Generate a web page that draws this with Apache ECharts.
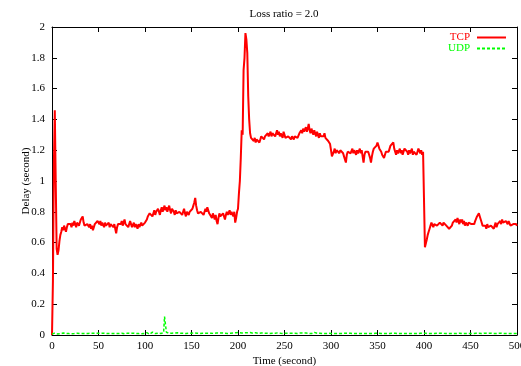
<!DOCTYPE html>
<html>
<head>
<meta charset="utf-8">
<script src="https://cdn.jsdelivr.net/npm/echarts@6/dist/echarts.min.js"></script>
<style>
html, body { margin: 0; padding: 0; background: #fff; }
#main { width: 521px; height: 366px; }
</style>
</head>
<body>
<div id="main"></div>
<script>
var chartDom = document.getElementById('main');
var myChart = echarts.init(chartDom);
var option;

// one sample per second, t = 0 .. 500
var tcpDelay = [
	0, 0.35, 1.1, 1.46, 1.0, 0.56, 0.52, 0.55, 0.61, 0.65,
	0.67, 0.70, 0.68, 0.71, 0.69, 0.67, 0.70, 0.72, 0.71, 0.73,
	0.72, 0.70, 0.73, 0.71, 0.74, 0.72, 0.70, 0.73, 0.72, 0.71,
	0.73, 0.75, 0.74, 0.77, 0.73, 0.71, 0.72, 0.70, 0.72, 0.71,
	0.70, 0.72, 0.69, 0.71, 0.68, 0.70, 0.72, 0.71, 0.73, 0.74,
	0.75, 0.72, 0.74, 0.71, 0.73, 0.72, 0.70, 0.73, 0.71, 0.72,
	0.71, 0.73, 0.70, 0.72, 0.71, 0.73, 0.70, 0.72, 0.69, 0.66,
	0.70, 0.72, 0.71, 0.73, 0.72, 0.74, 0.71, 0.73, 0.75, 0.72,
	0.71, 0.73, 0.70, 0.72, 0.74, 0.72, 0.70, 0.71, 0.73, 0.70,
	0.72, 0.71, 0.69, 0.72, 0.70, 0.71, 0.73, 0.71, 0.70, 0.72,
	0.73, 0.72, 0.75, 0.77, 0.76, 0.79, 0.78, 0.80, 0.77, 0.79,
	0.81, 0.78, 0.80, 0.79, 0.82, 0.80, 0.78, 0.81, 0.83, 0.80,
	0.82, 0.84, 0.81, 0.83, 0.80, 0.82, 0.84, 0.81, 0.79, 0.82,
	0.83, 0.80, 0.78, 0.81, 0.79, 0.80, 0.78, 0.80, 0.79, 0.81,
	0.78, 0.80, 0.82, 0.79, 0.77, 0.80, 0.81, 0.78, 0.80, 0.79,
	0.81, 0.82, 0.84, 0.86, 0.89, 0.84, 0.81, 0.79, 0.80, 0.78,
	0.80, 0.79, 0.81, 0.78, 0.80, 0.82, 0.80, 0.83, 0.81, 0.79,
	0.80, 0.78, 0.76, 0.79, 0.77, 0.75, 0.78, 0.74, 0.72, 0.76,
	0.79, 0.77, 0.78, 0.76, 0.79, 0.77, 0.75, 0.78, 0.80, 0.78,
	0.79, 0.81, 0.78, 0.80, 0.79, 0.77, 0.80, 0.73, 0.76, 0.80,
	0.82, 0.92, 1.00, 1.15, 1.33, 1.30, 1.72, 1.80, 1.96, 1.92,
	1.83, 1.55, 1.40, 1.31, 1.28, 1.27, 1.29, 1.26, 1.28, 1.25,
	1.27, 1.26, 1.28, 1.25, 1.27, 1.29, 1.28, 1.30, 1.27, 1.29,
	1.28, 1.30, 1.31, 1.29, 1.30, 1.32, 1.29, 1.31, 1.30, 1.32,
	1.29, 1.31, 1.33, 1.30, 1.32, 1.29, 1.31, 1.30, 1.28, 1.32,
	1.30, 1.28, 1.29, 1.27, 1.29, 1.28, 1.30, 1.27, 1.29, 1.28,
	1.27, 1.29, 1.28, 1.30, 1.28, 1.29, 1.31, 1.30, 1.33, 1.31,
	1.34, 1.32, 1.33, 1.35, 1.32, 1.34, 1.37, 1.33, 1.31, 1.34,
	1.32, 1.30, 1.33, 1.31, 1.29, 1.32, 1.30, 1.28, 1.31, 1.29,
	1.30, 1.28, 1.29, 1.31, 1.28, 1.29, 1.27, 1.26, 1.25, 1.24,
	1.20, 1.16, 1.15, 1.19, 1.21, 1.18, 1.20, 1.19, 1.21, 1.18,
	1.20, 1.19, 1.21, 1.18, 1.16, 1.14, 1.12, 1.17, 1.19, 1.18,
	1.20, 1.18, 1.19, 1.21, 1.18, 1.20, 1.19, 1.17, 1.20, 1.18,
	1.19, 1.21, 1.18, 1.20, 1.16, 1.12, 1.17, 1.19, 1.18, 1.20,
	1.19, 1.17, 1.15, 1.12, 1.16, 1.19, 1.21, 1.20, 1.22, 1.23,
	1.25, 1.24, 1.21, 1.22, 1.19, 1.17, 1.18, 1.15, 1.16, 1.19,
	1.18, 1.20, 1.19, 1.21, 1.23, 1.22, 1.24, 1.25, 1.21, 1.19,
	1.17, 1.20, 1.18, 1.19, 1.21, 1.18, 1.20, 1.17, 1.19, 1.21,
	1.20, 1.22, 1.19, 1.17, 1.20, 1.18, 1.19, 1.21, 1.17, 1.19,
	1.18, 1.20, 1.17, 1.19, 1.21, 1.22, 1.18, 1.20, 1.17, 1.19,
	1.18, 0.57, 0.58, 0.62, 0.65, 0.67, 0.69, 0.71, 0.73, 0.72,
	0.70, 0.72, 0.71, 0.73, 0.71, 0.72, 0.70, 0.73, 0.72, 0.74,
	0.71, 0.73, 0.72, 0.74, 0.71, 0.70, 0.72, 0.69, 0.68, 0.70,
	0.71, 0.73, 0.72, 0.74, 0.75, 0.73, 0.76, 0.74, 0.72, 0.75,
	0.73, 0.75, 0.72, 0.74, 0.71, 0.73, 0.72, 0.71, 0.73, 0.72,
	0.74, 0.72, 0.71, 0.73, 0.72, 0.74, 0.75, 0.77, 0.78, 0.79,
	0.77, 0.75, 0.73, 0.71, 0.72, 0.70, 0.71, 0.69, 0.72, 0.70,
	0.71, 0.69, 0.71, 0.70, 0.72, 0.69, 0.71, 0.73, 0.70, 0.72,
	0.71, 0.73, 0.74, 0.72, 0.75, 0.73, 0.74, 0.72, 0.74, 0.73,
	0.72, 0.74, 0.73, 0.71, 0.72, 0.70, 0.72, 0.73, 0.71, 0.72,
	0.71
];

var udpDelay = [
	0.006, 0.010, 0.008, 0.012, 0.009, 0.011, 0.007, 0.010, 0.012, 0.008,
	0.010, 0.009, 0.013, 0.008, 0.011, 0.010, 0.007, 0.012, 0.009, 0.010,
	0.011, 0.008, 0.010, 0.013, 0.009, 0.010, 0.008, 0.011, 0.010, 0.012,
	0.009, 0.011, 0.008, 0.010, 0.012, 0.009, 0.010, 0.013, 0.008, 0.010,
	0.011, 0.009, 0.012, 0.010, 0.008, 0.011, 0.010, 0.009, 0.012, 0.010,
	0.008, 0.011, 0.009, 0.010, 0.012, 0.008, 0.010, 0.011, 0.009, 0.012,
	0.010, 0.008, 0.011, 0.010, 0.013, 0.009, 0.010, 0.008, 0.011, 0.010,
	0.012, 0.009, 0.010, 0.008, 0.011, 0.012, 0.009, 0.010, 0.008, 0.011,
	0.010, 0.012, 0.009, 0.010, 0.011, 0.008, 0.010, 0.012, 0.009, 0.011,
	0.010, 0.008, 0.011, 0.009, 0.012, 0.010, 0.008, 0.011, 0.010, 0.009,
	0.012, 0.006, 0.015, 0.007, 0.017, 0.005, 0.016, 0.008, 0.018, 0.006,
	0.015, 0.009, 0.014, 0.010, 0.012, 0.011, 0.013, 0.010, 0.012, 0.014,
	0.015, 0.120, 0.110, 0.018, 0.012, 0.014, 0.011, 0.013, 0.010, 0.012,
	0.014, 0.011, 0.013, 0.010, 0.012, 0.014, 0.011, 0.013, 0.012, 0.010,
	0.013, 0.011, 0.014, 0.012, 0.010, 0.013, 0.011, 0.012, 0.014, 0.010,
	0.012, 0.013, 0.011, 0.014, 0.010, 0.012, 0.011, 0.013, 0.012, 0.010,
	0.013, 0.011, 0.012, 0.014, 0.010, 0.012, 0.013, 0.011, 0.012, 0.010,
	0.013, 0.012, 0.011, 0.014, 0.010, 0.012, 0.011, 0.013, 0.012, 0.010,
	0.012, 0.014, 0.011, 0.013, 0.010, 0.012, 0.011, 0.014, 0.012, 0.010,
	0.013, 0.011, 0.012, 0.014, 0.010, 0.013, 0.011, 0.012, 0.015, 0.011,
	0.014, 0.016, 0.012, 0.015, 0.013, 0.016, 0.012, 0.014, 0.016, 0.013,
	0.015, 0.012, 0.014, 0.016, 0.013, 0.015, 0.012, 0.014, 0.013, 0.015,
	0.012, 0.014, 0.011, 0.015, 0.012, 0.013, 0.011, 0.014, 0.012, 0.010,
	0.013, 0.011, 0.014, 0.012, 0.010, 0.013, 0.011, 0.012, 0.014, 0.010,
	0.012, 0.013, 0.011, 0.014, 0.010, 0.012, 0.011, 0.013, 0.012, 0.010,
	0.013, 0.011, 0.012, 0.014, 0.010, 0.012, 0.013, 0.011, 0.012, 0.010,
	0.013, 0.012, 0.011, 0.014, 0.010, 0.012, 0.011, 0.013, 0.012, 0.010,
	0.012, 0.014, 0.011, 0.013, 0.010, 0.012, 0.011, 0.014, 0.016, 0.009,
	0.015, 0.008, 0.017, 0.010, 0.014, 0.011, 0.013, 0.010, 0.012, 0.011,
	0.013, 0.010, 0.012, 0.011, 0.009, 0.012, 0.010, 0.011, 0.009, 0.012,
	0.010, 0.009, 0.011, 0.010, 0.012, 0.009, 0.010, 0.011, 0.009, 0.010,
	0.012, 0.009, 0.010, 0.011, 0.009, 0.012, 0.010, 0.009, 0.011, 0.010,
	0.009, 0.011, 0.010, 0.012, 0.009, 0.010, 0.011, 0.009, 0.010, 0.012,
	0.010, 0.009, 0.011, 0.010, 0.009, 0.012, 0.010, 0.011, 0.009, 0.010,
	0.011, 0.009, 0.010, 0.012, 0.010, 0.009, 0.011, 0.010, 0.012, 0.009,
	0.010, 0.011, 0.009, 0.012, 0.010, 0.009, 0.011, 0.010, 0.009, 0.012,
	0.010, 0.011, 0.009, 0.010, 0.012, 0.009, 0.011, 0.010, 0.009, 0.011,
	0.010, 0.012, 0.009, 0.010, 0.011, 0.009, 0.012, 0.010, 0.009, 0.011,
	0.010, 0.009, 0.011, 0.012, 0.009, 0.010, 0.011, 0.009, 0.010, 0.012,
	0.009, 0.011, 0.010, 0.009, 0.012, 0.010, 0.011, 0.009, 0.010, 0.011,
	0.012, 0.009, 0.011, 0.010, 0.012, 0.009, 0.010, 0.011, 0.009, 0.012,
	0.010, 0.009, 0.011, 0.010, 0.012, 0.009, 0.010, 0.011, 0.009, 0.010,
	0.011, 0.009, 0.012, 0.010, 0.009, 0.011, 0.010, 0.012, 0.009, 0.010,
	0.009, 0.011, 0.010, 0.012, 0.009, 0.010, 0.011, 0.009, 0.012, 0.010,
	0.011, 0.009, 0.010, 0.012, 0.010, 0.009, 0.011, 0.010, 0.009, 0.012,
	0.010, 0.011, 0.009, 0.010, 0.012, 0.009, 0.011, 0.010, 0.009, 0.011,
	0.012, 0.010, 0.009, 0.011, 0.010, 0.012, 0.009, 0.010, 0.011, 0.009,
	0.010, 0.012, 0.009, 0.011, 0.010, 0.009, 0.012, 0.010, 0.011, 0.009,
	0.011, 0.009, 0.010, 0.012, 0.009, 0.011, 0.010, 0.009, 0.011, 0.010,
	0.009, 0.011, 0.010, 0.012, 0.009, 0.010, 0.011, 0.009, 0.010, 0.011,
	0.010
];

var seriesNames = ['TCP', 'UDP'];
var seriesColors = ['#ff0000', '#00ff00'];

var font = 'Liberation Serif';

function toPairs(arr) {
	return arr.map(function (v, i) { return [i, v]; });
}

var boxAxis = {
	axisLine: { show: true, onZero: false, lineStyle: { color: '#000', width: 1 } },
	axisTick: { show: true, inside: true, length: 5, lineStyle: { color: '#000' } },
	splitLine: { show: false }
};

option = {
	animation: false,
	backgroundColor: '#fff',
	title: {
		text: 'Loss ratio = 2.0',
		left: 279,
		top: 4,
		textAlign: 'center',
		textStyle: { fontFamily: font, fontSize: 11, fontWeight: 'normal', color: '#000' }
	},
	legend: {
		orient: 'vertical',
		right: 9,
		top: 27,
		align: 'right',
		itemWidth: 29,
		itemHeight: 10,
		itemGap: 0,
		itemStyle: { opacity: 0 },
		data: [
			{ name: seriesNames[0], textStyle: { color: seriesColors[0] } },
			{ name: seriesNames[1], textStyle: { color: seriesColors[1] } }
		],
		textStyle: { fontFamily: font, fontSize: 11, padding: [0, 2, 0, 0] }
	},
	grid: { left: 52, right: 4, top: 27, bottom: 31, containLabel: false, outerBoundsMode: 'none' },
	xAxis: [
		Object.assign({
			type: 'value', min: 0, max: 500, interval: 50, position: 'bottom',
			name: 'Time (second)', nameLocation: 'middle', nameGap: 21, nameMoveOverlap: false,
			nameTextStyle: { fontFamily: font, fontSize: 11, color: '#000' },
			axisLabel: { fontFamily: font, fontSize: 11, color: '#000', margin: 6 }
		}, boxAxis),
		Object.assign({
			type: 'value', min: 0, max: 500, interval: 50, position: 'top',
			axisLabel: { show: false }
		}, boxAxis)
	],
	yAxis: [
		Object.assign({
			type: 'value', min: 0, max: 2, interval: 0.2, position: 'left',
			name: 'Delay (second)', nameLocation: 'middle', nameGap: 20, nameMoveOverlap: false,
			nameTextStyle: { fontFamily: font, fontSize: 11, color: '#000' },
			axisLabel: { fontFamily: font, fontSize: 11, color: '#000', margin: 7 }
		}, boxAxis),
		Object.assign({
			type: 'value', min: 0, max: 2, interval: 0.2, position: 'right',
			axisLabel: { show: false }
		}, boxAxis)
	],
	series: [
		{
			name: seriesNames[0],
			type: 'line',
			showSymbol: false,
			symbol: 'none',
			color: seriesColors[0],
			lineStyle: { width: 2, color: seriesColors[0] },
			data: toPairs(tcpDelay)
		},
		{
			name: seriesNames[1],
			type: 'line',
			showSymbol: false,
			symbol: 'none',
			color: seriesColors[1],
			lineStyle: { width: 1.5, color: seriesColors[1], type: [3, 2] },
			data: toPairs(udpDelay)
		}
	]
};

option && myChart.setOption(option);
</script>
</body>
</html>
